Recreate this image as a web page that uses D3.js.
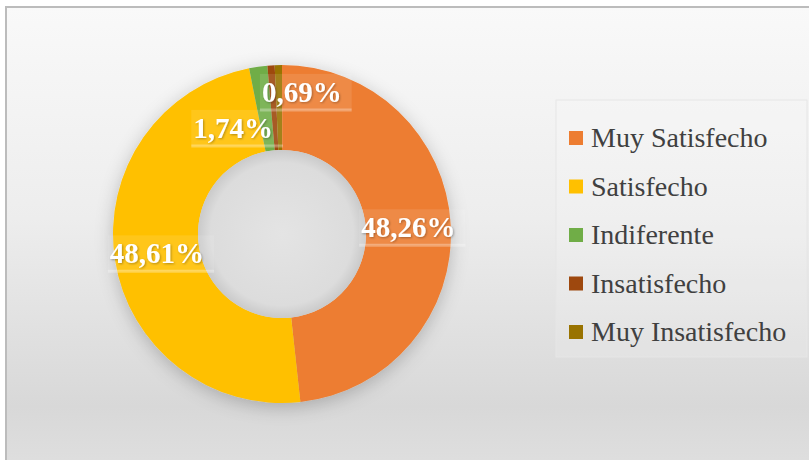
<!DOCTYPE html>
<html>
<head>
<meta charset="utf-8">
<script src="https://cdn.jsdelivr.net/npm/d3@7"></script>
<style>
  html, body { margin: 0; padding: 0; background: #ffffff; }
  #chartContainer { width: 809px; height: 460px; }
</style>
</head>
<body>
<div id="chartContainer"></div>
<script>
// chart data
var categories = ['Muy Satisfecho', 'Satisfecho', 'Indiferente', 'Insatisfecho', 'Muy Insatisfecho'];
var values = [48.26, 48.61, 1.74, 0.69, 0.69];
var showLabel = [true, true, true, true, false];
var colors = ['#ED7D31', '#FFC000', '#70AD47', '#9E480E', '#997300'];

var width = 809,
    height = 460,
    cx = 282,
    cy = 234,
    outerR = 169,
    innerR = 84,
    // labels of the thin slices were dragged off the centroid in the original
    labelNudge = { 'Indiferente': [-31, 19], 'Insatisfecho': [28, -16] };

var fmt = d3.formatLocale({ decimal: ',', thousands: '.', grouping: [3], currency: ['', ''] }).format('.2f');

var svg = d3.select('#chartContainer').append('svg')
    .attr('width', width)
    .attr('height', height);

var defs = svg.append('defs');

var bg = defs.append('linearGradient').attr('id', 'bg')
    .attr('x1', 0).attr('y1', 0).attr('x2', 0).attr('y2', 1);
bg.append('stop').attr('offset', '0%').attr('stop-color', '#f9f9f9');
bg.append('stop').attr('offset', '45%').attr('stop-color', '#ededed');
bg.append('stop').attr('offset', '85%').attr('stop-color', '#d8d8d8');
bg.append('stop').attr('offset', '100%').attr('stop-color', '#e0e0e0');

var hole = defs.append('radialGradient').attr('id', 'hole');
hole.append('stop').attr('offset', '0%').attr('stop-color', '#e4e4e4');
hole.append('stop').attr('offset', '85%').attr('stop-color', '#dcdcdc');
hole.append('stop').attr('offset', '100%').attr('stop-color', '#cacaca');

var shadow = defs.append('filter').attr('id', 'shadow')
    .attr('x', '-30%').attr('y', '-30%').attr('width', '160%').attr('height', '160%');
shadow.append('feDropShadow')
    .attr('dx', 0).attr('dy', 4)
    .attr('stdDeviation', 9)
    .attr('flood-color', '#000')
    .attr('flood-opacity', 0.22);

var txtShadow = defs.append('filter').attr('id', 'txtShadow');
txtShadow.append('feDropShadow')
    .attr('dx', 1).attr('dy', 1)
    .attr('stdDeviation', 1)
    .attr('flood-color', '#000')
    .attr('flood-opacity', 0.3);

// chart area
svg.append('rect')
    .attr('x', 6).attr('y', 7)
    .attr('width', width + 10).attr('height', height + 10)
    .attr('fill', 'url(#bg)')
    .attr('stroke', '#bcbcbc')
    .attr('stroke-width', 2);

var pie = d3.pie().sort(null).value(function (d) { return d; });
var arc = d3.arc().innerRadius(innerR).outerRadius(outerR);
var arcs = pie(values);

var donut = svg.append('g')
    .attr('transform', 'translate(' + cx + ',' + cy + ')');

donut.append('g')
    .attr('filter', 'url(#shadow)')
    .selectAll('path')
    .data(arcs)
    .enter()
    .append('path')
    .attr('d', arc)
    .attr('fill', function (d, i) { return colors[i]; });

donut.append('circle')
    .attr('r', innerR)
    .attr('fill', 'url(#hole)');

// data labels
var lbl = donut.selectAll('.lbl')
    .data(arcs.filter(function (d, i) { return showLabel[i]; }))
    .enter()
    .append('g').attr('class', 'lbl')
    .attr('transform', function (d) {
        var c = arc.centroid(d),
            n = labelNudge[categories[d.index]] || [0, 0];
        return 'translate(' + (c[0] + n[0]) + ',' + (c[1] + n[1]) + ')';
    });

lbl.append('rect').attr('class', 'box');
lbl.append('text')
    .attr('text-anchor', 'middle')
    .attr('dy', '0.35em')
    .attr('font-family', '"Liberation Serif", "Times New Roman", serif')
    .attr('font-weight', 'bold')
    .attr('font-size', 29)
    .attr('fill', '#ffffff')
    .attr('filter', 'url(#txtShadow)')
    .text(function (d) { return fmt(d.data) + '%'; });

lbl.each(function () {
    var g = d3.select(this),
        bb = g.select('text').node().getBBox();
    g.select('rect.box')
        .attr('x', bb.x - 2).attr('y', bb.y - 2)
        .attr('width', bb.width + 12).attr('height', bb.height + 4)
        .attr('fill', '#ffffff').attr('fill-opacity', 0.1);
    g.append('line')
        .attr('x1', bb.x - 2).attr('x2', bb.x + bb.width + 10)
        .attr('y1', bb.y + bb.height + 2).attr('y2', bb.y + bb.height + 2)
        .attr('stroke', '#ffffff').attr('stroke-opacity', 0.3)
        .attr('stroke-width', 3);
});

// legend
var legend = svg.append('g').attr('class', 'legend');

legend.append('rect')
    .attr('x', 556).attr('y', 100)
    .attr('width', 251).attr('height', 257)
    .attr('fill', '#ffffff').attr('fill-opacity', 0.15)
    .attr('stroke', '#e6e6e6');

var item = legend.selectAll('.item')
    .data(categories)
    .enter()
    .append('g').attr('class', 'item')
    .attr('transform', function (d, i) { return 'translate(569,' + (138 + i * 48.5) + ')'; });

item.append('rect')
    .attr('x', 0).attr('y', -7)
    .attr('width', 14).attr('height', 14)
    .attr('fill', function (d, i) { return colors[i]; });

item.append('text')
    .attr('x', 22)
    .attr('dy', '0.33em')
    .attr('font-family', '"Liberation Serif", "Times New Roman", serif')
    .attr('font-size', 28)
    .attr('fill', '#404040')
    .text(function (d) { return d; });
</script>
</body>
</html>
